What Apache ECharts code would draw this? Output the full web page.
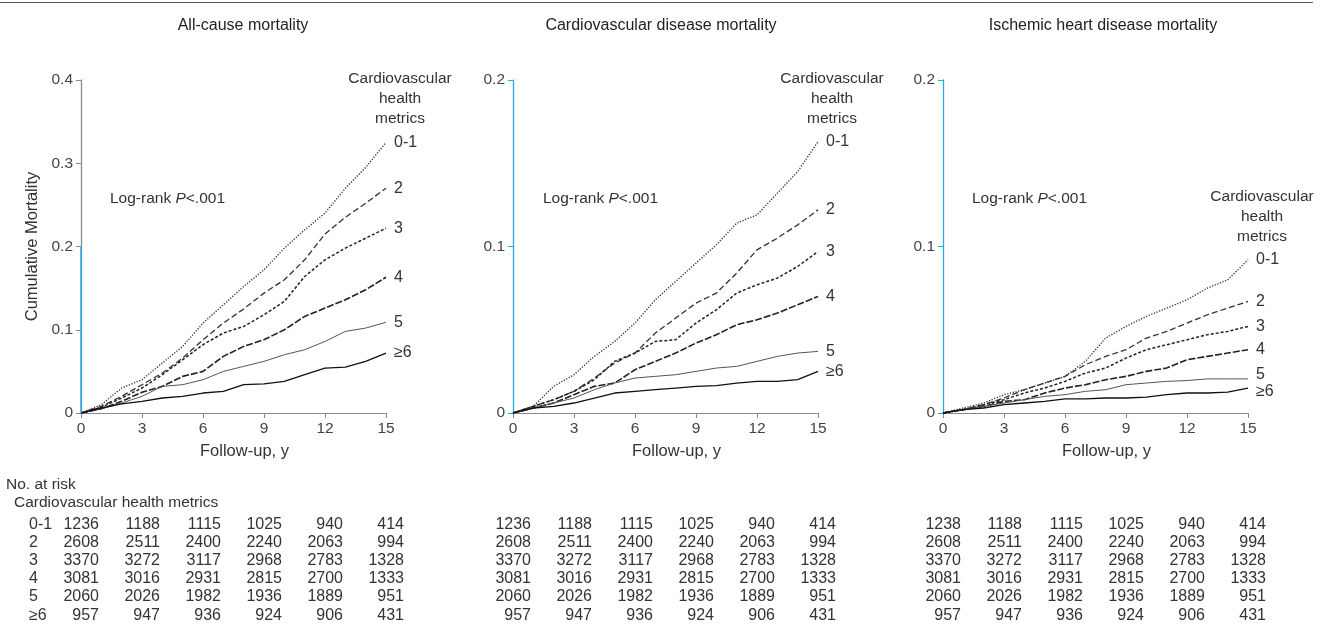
<!DOCTYPE html>
<html>
<head>
<meta charset="utf-8">
<script src="https://cdn.jsdelivr.net/npm/echarts@6/dist/echarts.min.js"></script>
<style>
  html, body { margin: 0; padding: 0; background: #fff; }
  #main { width: 1329px; height: 639px; }
</style>
</head>
<body>
<div id="main"></div>
<script>
// --- Data ---

const YEARS = [0, 1, 2, 3, 4, 5, 6, 7, 8, 9, 10, 11, 12, 13, 14, 15];
const GROUPS = ['0-1', '2', '3', '4', '5', '≥6'];
const RISK_YEARS = [0, 3, 6, 9, 12, 15];

// cumulative mortality per group
const allCause = [
    [0, 0.010, 0.030, 0.040, 0.060, 0.080, 0.108, 0.130, 0.152, 0.172, 0.198, 0.220, 0.240, 0.270, 0.295, 0.325],
    [0, 0.008, 0.020, 0.034, 0.048, 0.066, 0.088, 0.108, 0.125, 0.144, 0.160, 0.184, 0.215, 0.235, 0.252, 0.270],
    [0, 0.007, 0.018, 0.030, 0.046, 0.064, 0.082, 0.096, 0.104, 0.118, 0.134, 0.164, 0.184, 0.198, 0.210, 0.222],
    [0, 0.005, 0.014, 0.025, 0.032, 0.044, 0.050, 0.068, 0.080, 0.088, 0.100, 0.116, 0.126, 0.136, 0.148, 0.163],
    [0, 0.005, 0.012, 0.020, 0.032, 0.034, 0.040, 0.050, 0.056, 0.062, 0.070, 0.076, 0.086, 0.098, 0.102, 0.109],
    [0, 0.006, 0.011, 0.014, 0.018, 0.020, 0.024, 0.026, 0.034, 0.035, 0.038, 0.046, 0.054, 0.055, 0.062, 0.072]
];
const cvdMortality = [
    [0, 0.004, 0.016, 0.023, 0.034, 0.043, 0.054, 0.068, 0.079, 0.090, 0.101, 0.114, 0.119, 0.132, 0.145, 0.163],
    [0, 0.004, 0.008, 0.013, 0.021, 0.030, 0.036, 0.048, 0.057, 0.066, 0.072, 0.084, 0.098, 0.105, 0.113, 0.122],
    [0, 0.004, 0.008, 0.013, 0.020, 0.031, 0.036, 0.043, 0.044, 0.054, 0.062, 0.072, 0.077, 0.081, 0.088, 0.097],
    [0, 0.003, 0.006, 0.011, 0.016, 0.018, 0.026, 0.031, 0.036, 0.042, 0.047, 0.053, 0.056, 0.060, 0.065, 0.070],
    [0, 0.003, 0.006, 0.009, 0.014, 0.018, 0.021, 0.022, 0.023, 0.025, 0.027, 0.028, 0.031, 0.034, 0.036, 0.037],
    [0, 0.003, 0.004, 0.006, 0.009, 0.012, 0.013, 0.014, 0.015, 0.016, 0.0165, 0.018, 0.019, 0.019, 0.020, 0.025]
];
const ihdMortality = [
    [0, 0.003, 0.006, 0.011, 0.014, 0.018, 0.022, 0.031, 0.045, 0.052, 0.058, 0.063, 0.068, 0.075, 0.080, 0.092],
    [0, 0.002, 0.005, 0.009, 0.014, 0.018, 0.022, 0.029, 0.034, 0.038, 0.045, 0.049, 0.054, 0.059, 0.063, 0.067],
    [0, 0.002, 0.005, 0.008, 0.012, 0.015, 0.019, 0.024, 0.027, 0.033, 0.038, 0.041, 0.044, 0.047, 0.049, 0.052],
    [0, 0.002, 0.004, 0.007, 0.008, 0.012, 0.015, 0.017, 0.020, 0.022, 0.025, 0.027, 0.032, 0.034, 0.036, 0.038],
    [0, 0.002, 0.004, 0.006, 0.008, 0.010, 0.011, 0.013, 0.014, 0.017, 0.018, 0.019, 0.0195, 0.0205, 0.0205, 0.0205],
    [0, 0.002, 0.003, 0.005, 0.006, 0.007, 0.0085, 0.0085, 0.009, 0.009, 0.0095, 0.011, 0.012, 0.012, 0.0125, 0.015]
];

// number at risk, one row per group, columns at RISK_YEARS
const riskAllCause = [
    [1236, 1188, 1115, 1025, 940, 414],
    [2608, 2511, 2400, 2240, 2063, 994],
    [3370, 3272, 3117, 2968, 2783, 1328],
    [3081, 3016, 2931, 2815, 2700, 1333],
    [2060, 2026, 1982, 1936, 1889, 951],
    [957, 947, 936, 924, 906, 431]
];
const riskCvd = [
    [1236, 1188, 1115, 1025, 940, 414],
    [2608, 2511, 2400, 2240, 2063, 994],
    [3370, 3272, 3117, 2968, 2783, 1328],
    [3081, 3016, 2931, 2815, 2700, 1333],
    [2060, 2026, 1982, 1936, 1889, 951],
    [957, 947, 936, 924, 906, 431]
];
const riskIhd = [
    [1238, 1188, 1115, 1025, 940, 414],
    [2608, 2511, 2400, 2240, 2063, 994],
    [3370, 3272, 3117, 2968, 2783, 1328],
    [3081, 3016, 2931, 2815, 2700, 1333],
    [2060, 2026, 1982, 1936, 1889, 951],
    [957, 947, 936, 924, 906, 431]
];

// --- Layout / styles ---

const FONT = '"Liberation Sans", Arial, Helvetica, sans-serif';
const TEXT = '#333';
const AXIS_GRAY = '#8a8a8a';
const AXIS_BLUE = '#29abe2';

const panels = [
    { title: 'All-cause mortality', titleX: 243, data: allCause, risk: riskAllCause, yMax: 0.4, left: 81, axisColor: AXIS_GRAY, headerY: 69, logX: 110 },
    { title: 'Cardiovascular disease mortality', titleX: 661, data: cvdMortality, risk: riskCvd, yMax: 0.2, left: 513, axisColor: AXIS_BLUE, headerY: 69, logX: 543 },
    { title: 'Ischemic heart disease mortality', titleX: 1103, data: ihdMortality, risk: riskIhd, yMax: 0.2, left: 943, axisColor: AXIS_BLUE, headerY: 187, logX: 972 }
];

const lineStyles = [
    { color: '#333', width: 1.4, type: [1.2, 1.6] },
    { color: '#333', width: 1.3, type: [6, 3] },
    { color: '#222', width: 1.5, type: [3, 2] },
    { color: '#222', width: 1.6, type: [7, 2] },
    { color: '#555', width: 1, type: 'solid' },
    { color: '#111', width: 1.3, type: 'solid' }
];

// the last two labels of the right panel sit close together: nudge them apart
const crowdedLabelShift = { 4: -4, 5: 4 };

const chart = echarts.init(document.getElementById('main'));

const series = [];
panels.forEach((p, i) => {
    GROUPS.forEach((g, j) => {
        const s = {
            type: 'line',
            name: g,
            xAxisIndex: i,
            yAxisIndex: i,
            data: YEARS.map((x, k) => [x, p.data[j][k]]),
            showSymbol: false,
            silent: true,
            lineStyle: lineStyles[j],
            endLabel: {
                show: true,
                formatter: '{a}',
                distance: 8,
                fontSize: 16,
                fontFamily: FONT,
                color: TEXT,
                offset: [0, i === 2 && crowdedLabelShift[j] ? crowdedLabelShift[j] : 0]
            }
        };
        // left panel: lower half of the y axis is drawn blue
        if (i === 0 && j === 0) {
            s.markLine = {
                silent: true,
                symbol: 'none',
                label: { show: false },
                lineStyle: { color: AXIS_BLUE, type: 'solid', width: 1.5 },
                data: [[{ coord: [0, 0] }, { coord: [0, 0.2] }]]
            };
        }
        series.push(s);
    });
});

chart.setOption({
    animation: false,
    textStyle: { fontFamily: FONT },
    grid: panels.map(p => ({ left: p.left, top: 80, width: 305, height: 333 })),
    xAxis: panels.map((p, i) => ({
        type: 'value',
        gridIndex: i,
        min: 0,
        max: 15,
        interval: 3,
        splitLine: { show: false },
        axisLine: { lineStyle: { color: AXIS_GRAY, width: 1 } },
        axisTick: { length: 5, lineStyle: { color: AXIS_GRAY } },
        axisLabel: { color: '#444', fontSize: 15.5, margin: 8, fontFamily: FONT },
        name: 'Follow-up, y',
        nameLocation: 'middle',
        nameGap: 30,
        nameTextStyle: { color: TEXT, fontSize: 16.5, fontFamily: FONT, padding: [0, 0, 0, 22] }
    })),
    yAxis: panels.map((p, i) => ({
        type: 'value',
        gridIndex: i,
        min: 0,
        max: p.yMax,
        interval: 0.1,
        splitLine: { show: false },
        axisLine: { show: true, lineStyle: { color: p.axisColor, width: 1.3 } },
        axisTick: { show: true, length: 5, lineStyle: { color: p.axisColor } },
        axisLabel: {
            color: '#444',
            fontSize: 15.5,
            margin: 8,
            fontFamily: FONT,
            formatter: v => (v === 0 ? '0' : v.toFixed(1))
        },
        name: i === 0 ? 'Cumulative Mortality' : '',
        nameLocation: 'middle',
        nameGap: 40,
        nameTextStyle: { color: TEXT, fontSize: 16.5, fontFamily: FONT }
    })),
    series: series
});

// --- Texts and the number-at-risk table ---

const graphics = [
    { type: 'line', shape: { x1: 0, y1: 2.5, x2: 1313, y2: 2.5 }, style: { stroke: '#555', lineWidth: 1 } },
    { type: 'text', left: 6, top: 477, style: { text: 'No. at risk', fontSize: 15.5, fontFamily: FONT, fill: TEXT } },
    { type: 'text', left: 14, top: 495, style: { text: 'Cardiovascular health metrics', fontSize: 15.5, fontFamily: FONT, fill: TEXT } }
];

const ROW_Y = [525, 543, 561, 579, 597, 616];

GROUPS.forEach((g, j) => {
    graphics.push({
        type: 'text', x: 29, y: ROW_Y[j],
        style: { text: g, fontSize: 16, fontFamily: FONT, fill: TEXT, verticalAlign: 'middle' }
    });
});

panels.forEach((p, i) => {
    graphics.push({
        type: 'text', x: p.titleX, y: 26,
        style: { text: p.title, fontSize: 16, fontFamily: FONT, fill: '#222', align: 'center', verticalAlign: 'middle' }
    });
    graphics.push({
        type: 'text', x: p.left + 319, y: p.headerY,
        style: {
            text: 'Cardiovascular\nhealth\nmetrics',
            fontSize: 15.5, lineHeight: 20, fontFamily: FONT, fill: TEXT,
            align: 'center', verticalAlign: 'top'
        }
    });
    graphics.push({
        type: 'text', x: p.logX, y: 199,
        style: {
            text: 'Log-rank {i|P}<.001',
            fontSize: 15.5, fontFamily: FONT, fill: TEXT, verticalAlign: 'middle',
            rich: { i: { fontStyle: 'italic', fontSize: 15.5, fontFamily: FONT, fill: TEXT } }
        }
    });
    RISK_YEARS.forEach((yr, c) => {
        const px = chart.convertToPixel({ xAxisIndex: i }, yr);
        p.risk.forEach((row, r) => {
            graphics.push({
                type: 'text', x: px + 18, y: ROW_Y[r],
                style: { text: String(row[c]), fontSize: 16, fontFamily: FONT, fill: TEXT, align: 'right', verticalAlign: 'middle' }
            });
        });
    });
});

chart.setOption({ graphic: graphics });
</script>
</body>
</html>
